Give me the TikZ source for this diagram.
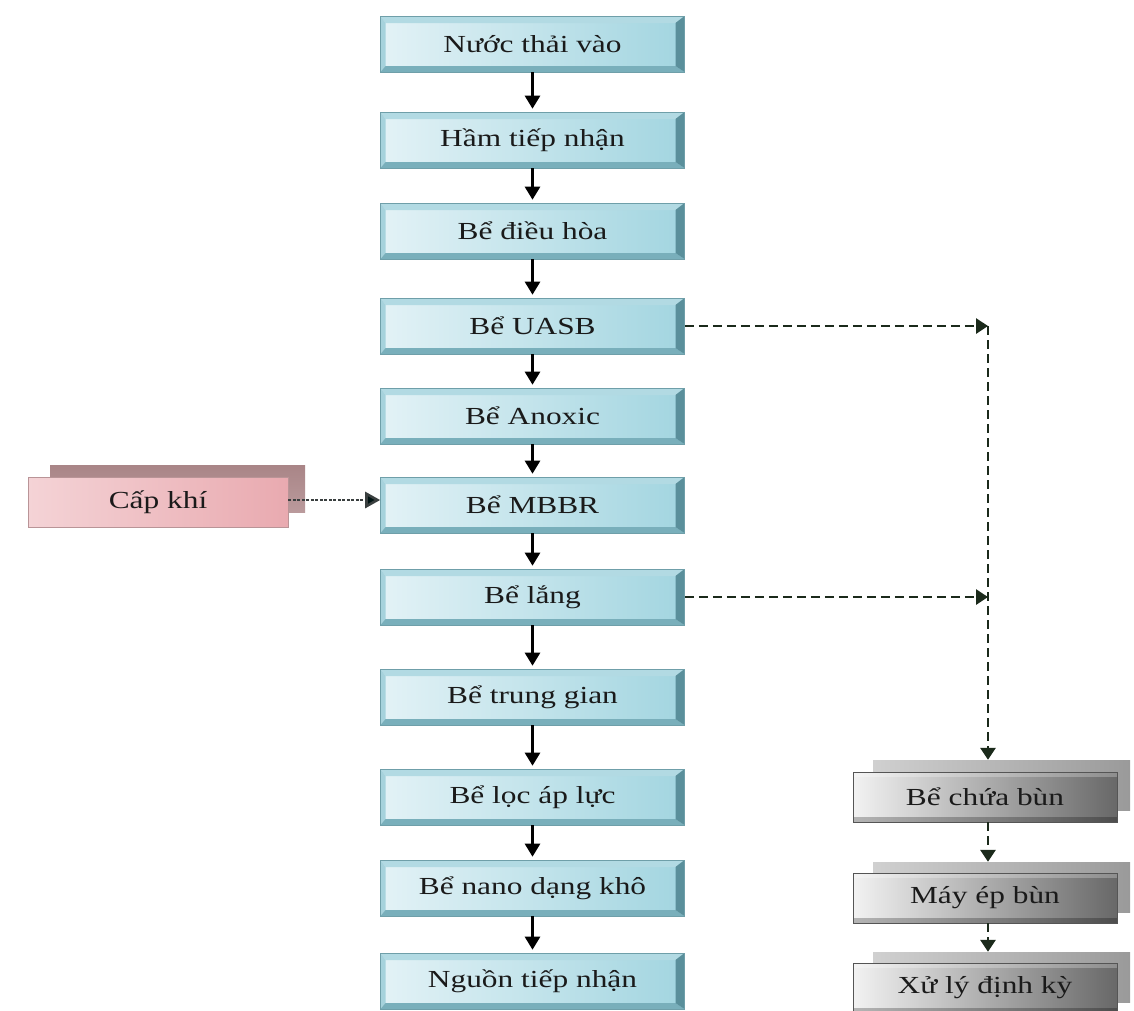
\documentclass[tikz,border=0pt]{standalone}
\usepackage{fontspec}
\setmainfont{Liberation Serif}[FakeStretch=1.28]
\usetikzlibrary{arrows.meta,calc}

\definecolor{txt}{HTML}{1A1A1A}
\definecolor{faceL}{HTML}{E3F2F6}
\definecolor{faceR}{HTML}{A2D5E0}
\definecolor{edgeteal}{HTML}{6F9FA9}
\definecolor{bevT}{HTML}{B2DAE3}
\definecolor{bevL}{HTML}{A6D2DC}
\definecolor{bevR}{HTML}{5A8F9B}
\definecolor{bevB}{HTML}{79AFBB}
\definecolor{grayL}{HTML}{F2F2F2}
\definecolor{grayR}{HTML}{686868}
\definecolor{grayEdge}{HTML}{555555}
\definecolor{shadeL}{HTML}{D0D0D0}
\definecolor{shadeR}{HTML}{9A9A9A}
\definecolor{pinkL}{HTML}{F4D3D6}
\definecolor{pinkM}{HTML}{F5DCDE}
\definecolor{pinkR}{HTML}{E9AAB0}
\definecolor{pinkEdge}{HTML}{B99497}
\definecolor{mauve}{HTML}{BA9A9C}
\definecolor{mauveD}{HTML}{A98587}
\definecolor{dashcol}{HTML}{1B2A1B}
\definecolor{dotcol}{HTML}{3A3F3F}

\newcommand{\boxfont}{\fontsize{24.5}{28}\selectfont}
\newcommand{\ppbb}{path picture bounding box}

\tikzset{
  mainbox/.style={rectangle, minimum width=304pt, minimum height=56pt, inner sep=0pt,
    draw=edgeteal, line width=0.6pt, left color=faceL, right color=faceR,
    font=\boxfont, text=txt,
    path picture={
      \fill[bevT] (\ppbb.north west) -- (\ppbb.north east)
        -- ([shift={(-9,7)}]\ppbb.north east) -- ([shift={(5,7)}]\ppbb.north west) -- cycle;
      \fill[bevL] (\ppbb.north west) -- (\ppbb.south west)
        -- ([shift={(5,-6)}]\ppbb.south west) -- ([shift={(5,7)}]\ppbb.north west) -- cycle;
      \fill[bevB] (\ppbb.south west) -- (\ppbb.south east)
        -- ([shift={(-9,-6)}]\ppbb.south east) -- ([shift={(5,-6)}]\ppbb.south west) -- cycle;
      \fill[bevR] (\ppbb.north east) -- (\ppbb.south east)
        -- ([shift={(-9,-6)}]\ppbb.south east) -- ([shift={(-9,7)}]\ppbb.north east) -- cycle;
    }},
  graybox/.style={rectangle, minimum width=264pt, minimum height=50pt, inner sep=0pt,
    draw=grayEdge, line width=0.6pt, left color=grayL, right color=grayR,
    font=\boxfont, text=txt,
    path picture={
      \fill[black, opacity=0.25] (\ppbb.south west) rectangle ([shift={(0,-5)}]\ppbb.south east);
      \fill[white, opacity=0.25] (\ppbb.north west) rectangle ([shift={(0,5)}]\ppbb.north east);
    }},
  grayshadow/.style={rectangle, minimum width=257pt, minimum height=50pt, inner sep=0pt,
    left color=shadeL, right color=shadeR},
  pinkbox/.style={rectangle, minimum width=260pt, minimum height=50pt, inner sep=0pt,
    draw=pinkEdge, line width=0.6pt, left color=pinkL, middle color=pinkM, right color=pinkR,
    font=\boxfont, text=txt},
  pinkshadow/.style={rectangle, minimum width=255pt, minimum height=47pt, inner sep=0pt,
    top color=mauveD, bottom color=mauve},
  flow/.style={draw=black, line width=2.6pt, -{Triangle[width=15pt,length=13pt]}},
  sludge/.style={draw=dashcol, line width=2.8pt, dash pattern=on 9pt off 5pt,
    -{Triangle[width=15pt,length=12pt]}},
  air/.style={draw=dotcol, line width=2.6pt, dash pattern=on 3pt off 1.5pt,
    -{Triangle[width=16pt,length=15pt,fill=black!85!teal]}},
}

\begin{document}
\begin{tikzpicture}[x=1pt, y=-1pt]
  \useasboundingbox[fill=white] (0,0) rectangle (1134,1010);

  % treatment line
  \node[mainbox] (n1)  at (532.5,44)  {Nước thải vào};
  \node[mainbox] (n2)  at (532.5,140) {Hầm tiếp nhận};
  \node[mainbox] (n3)  at (532.5,231) {Bể điều hòa};
  \node[mainbox] (n4)  at (532.5,326) {Bể UASB};
  \node[mainbox] (n5)  at (532.5,416) {Bể Anoxic};
  \node[mainbox] (n6)  at (532.5,505) {Bể MBBR};
  \node[mainbox] (n7)  at (532.5,597) {Bể lắng};
  \node[mainbox] (n8)  at (532.5,697) {Bể trung gian};
  \node[mainbox] (n9)  at (532.5,797) {Bể lọc áp lực};
  \node[mainbox] (n10) at (532.5,888) {Bể nano dạng khô};
  \node[mainbox] (n11) at (532.5,981) {Nguồn tiếp nhận};

  \foreach \a/\b in {n1/n2,n2/n3,n3/n4,n4/n5,n5/n6,n6/n7,n7/n8,n8/n9,n9/n10,n10/n11}
    \draw[flow] (\a.south) -- ([yshift=3pt]\b.north);

  % aeration
  \node[pinkshadow] (caps) at (177.5,488.5) {};
  \node[pinkbox] (cap) at (158,502) {Cấp khí};
  \draw[air] (cap.east |- 0,500) -- (n6.west |- 0,500);

  % sludge line
  \node[grayshadow] (s1) at (1001.5,785) {};
  \node[graybox] (g1) at (985,797) {Bể chứa bùn};
  \node[grayshadow] (s2) at (1001.5,887) {};
  \node[graybox] (g2) at (985,898) {Máy ép bùn};
  \node[grayshadow] (s3) at (1001.5,977) {};
  \node[graybox] (g3) at (985,988) {Xử lý định kỳ};

  \coordinate (j1) at (988,326);
  \coordinate (j2) at (988,597);
  \draw[sludge] (n4.east) -- (j1);
  \draw[sludge] (n7.east) -- (j2);
  \draw[sludge] (j1) -- (j1 |- s1.north);
  \draw[sludge] (g1.south -| j1) -- (j1 |- s2.north);
  \draw[sludge] (g2.south -| j1) -- (j1 |- s3.north);
\end{tikzpicture}
\end{document}
